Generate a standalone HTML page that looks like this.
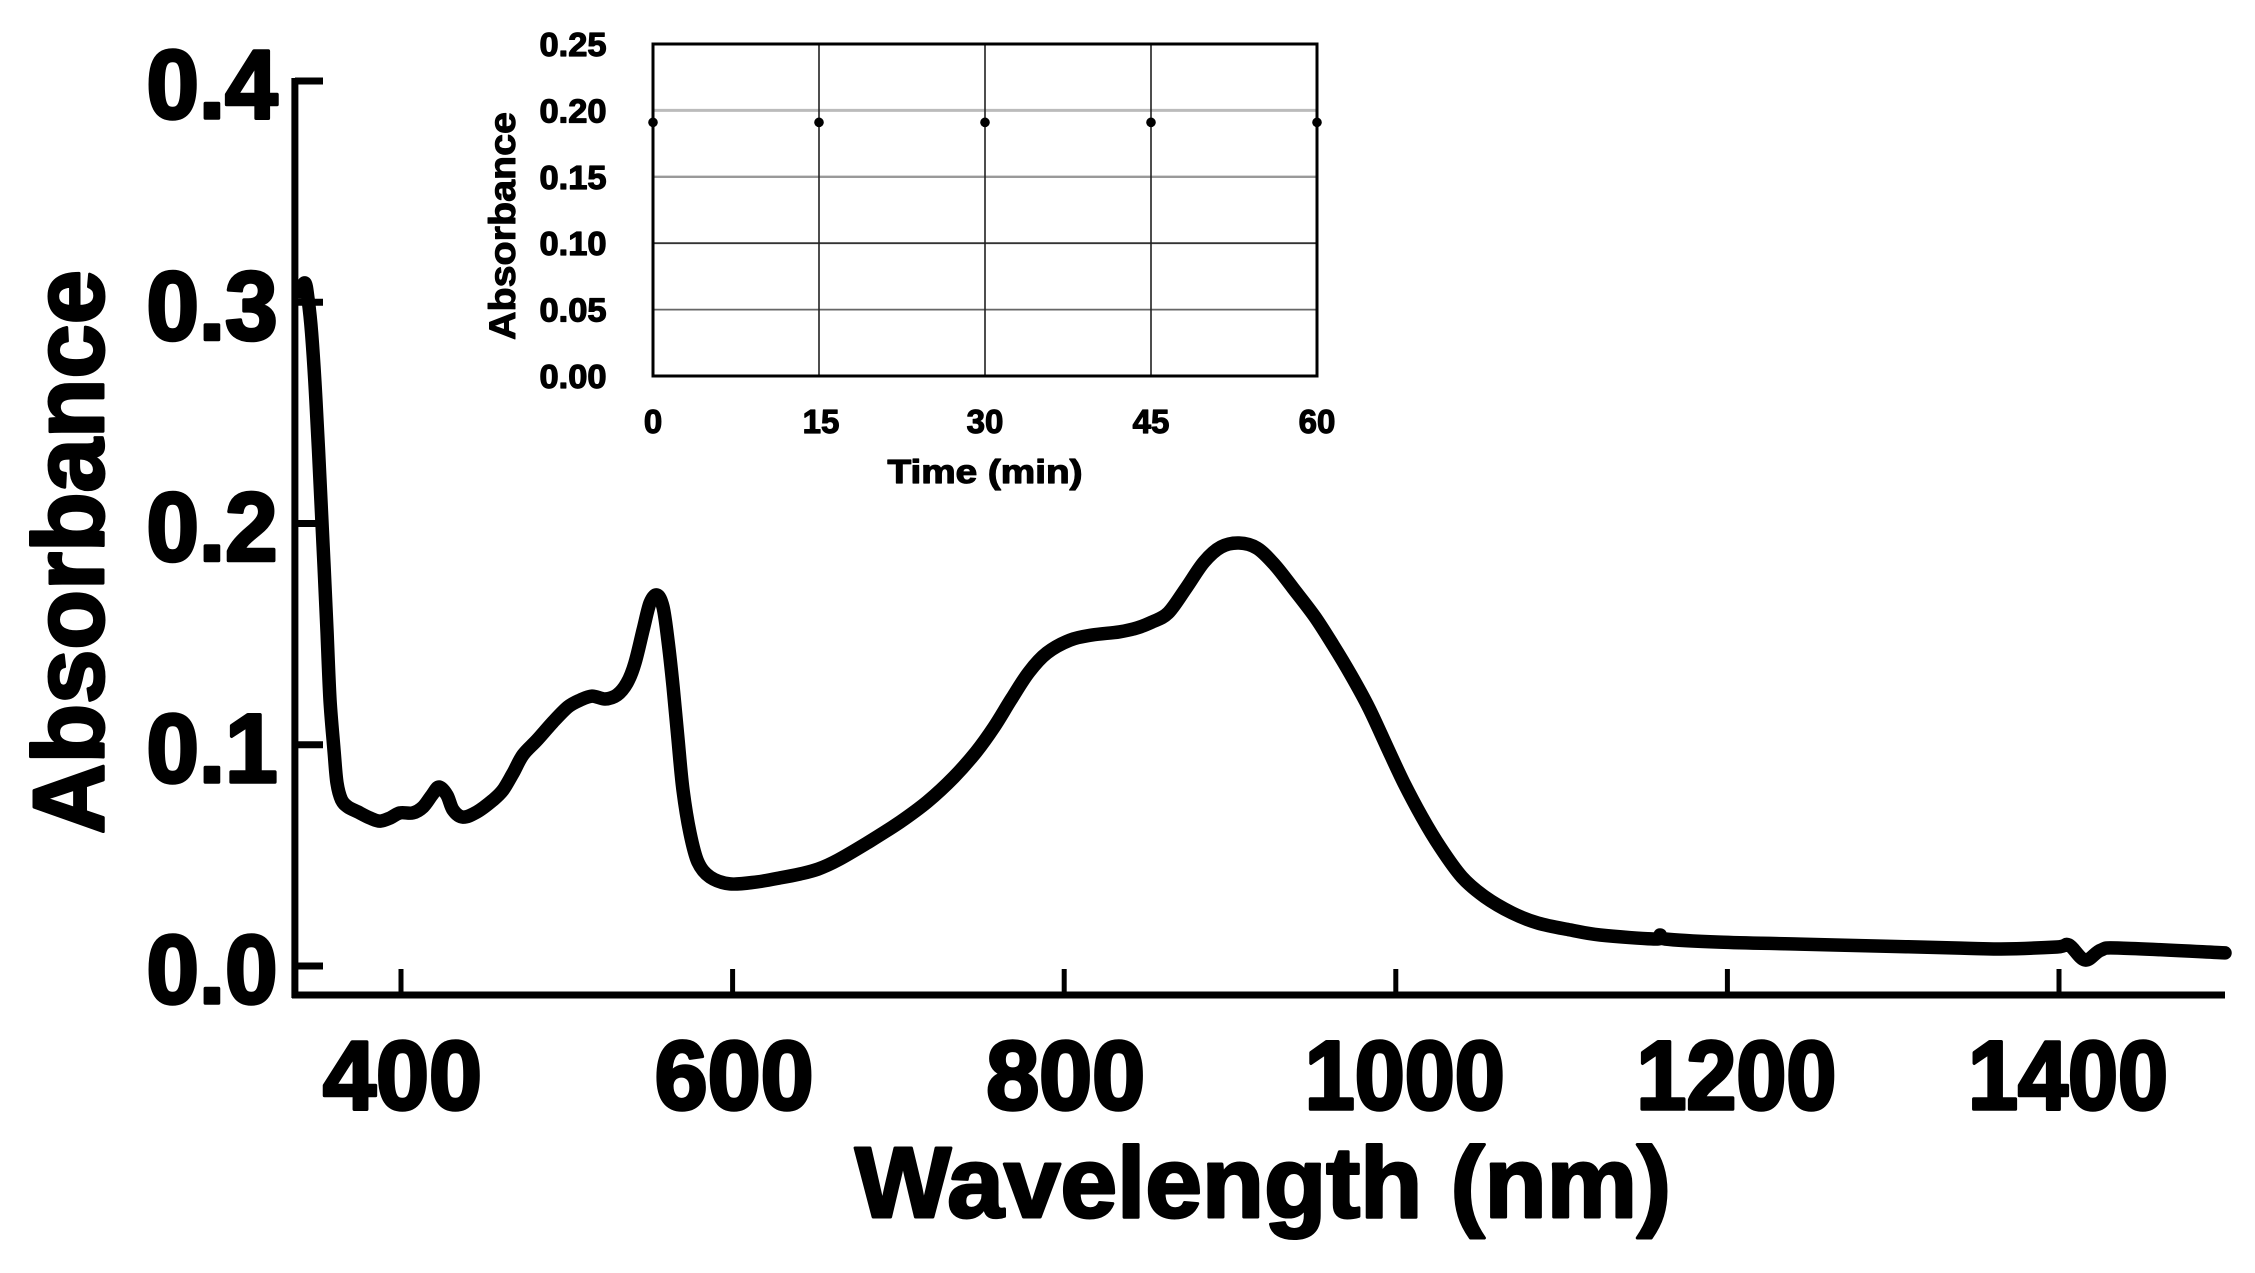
<!DOCTYPE html>
<html lang="en">
<head>
<meta charset="utf-8">
<title>Absorbance spectrum</title>
<style>
html,body{margin:0;padding:0;background:#fff;width:2255px;height:1273px;overflow:hidden}
svg{display:block}
text{font-family:"Liberation Sans",sans-serif;font-weight:700;fill:#000;stroke:#000;stroke-linejoin:round}
.big{font-size:97px;stroke-width:3.5px}
.title{font-size:100px;stroke-width:3px}
.small{font-size:33px;stroke-width:1.2px}
.small-title{font-size:37px;stroke-width:1px}
.axis{stroke:#000;stroke-width:7px;fill:none}
.tick-y{stroke:#000;stroke-width:7px}
.tick-x{stroke:#000;stroke-width:5px}
.frame{stroke:#000;stroke-width:3px;fill:none}
.grid-v{stroke:#222;stroke-width:1.6px}
.grid-h0{stroke:#bbb;stroke-width:3px}
.grid-h1{stroke:#999;stroke-width:2.4px}
.grid-h2{stroke:#333;stroke-width:1.8px}
.grid-h3{stroke:#666;stroke-width:1.8px}
.spectrum{stroke:#000;stroke-width:13.5px;fill:none;stroke-linejoin:round;stroke-linecap:round}
</style>
</head>
<body>
<svg id="chart" xmlns="http://www.w3.org/2000/svg" width="2255" height="1273" viewBox="0 0 2255 1273">
  <rect x="0" y="0" width="2255" height="1273" fill="#fff"/>
  <g id="main-plot"></g>
  <text class="title" transform="translate(103,552) rotate(-90)" text-anchor="middle" textLength="564" lengthAdjust="spacingAndGlyphs">Absorbance</text>
  <text class="title" x="1263" y="1217" text-anchor="middle" textLength="816" lengthAdjust="spacingAndGlyphs">Wavelength (nm)</text>
  <g id="inset-plot"></g>
  <text class="small-title" transform="translate(515,226) rotate(-90)" text-anchor="middle" textLength="228" lengthAdjust="spacingAndGlyphs">Absorbance</text>
  <text class="small" x="985" y="483" text-anchor="middle" textLength="195" lengthAdjust="spacingAndGlyphs">Time (min)</text>
</svg>
<script>
const wavelengths = [339.1,342.1,344,346.1,348.7,351.7,353.6,355.4,357.2,359.6,361.4,364.2,368,374.1,381.3,387.3,393.4,399.4,407.2,413.3,418.7,422.9,427.7,431.4,437.4,445.8,455.5,461.5,467.6,473.6,482,491.7,500.7,508,515.2,523,530.3,536.3,541.1,546,550.2,554.4,558,561,564.1,567.1,570.1,574.3,579.1,586.4,598.4,614.7,628.6,640.6,651.5,663.6,681.1,701,717.2,733.5,746.8,757.7,768.5,778.8,789.6,803.5,816.8,833.1,843.9,853,862.6,873.5,884.3,894.6,905.4,916.3,927.1,938,951.3,962.1,973,983.8,994.7,1004.9,1015.8,1026.7,1039.9,1053.8,1070.1,1085.8,1105.1,1123.2,1156.9,1159.4,1162.4,1195.5,1243.8,1292.6,1340.9,1365,1398.8,1406,1415.7,1425.3,1437.4,1500.1];
const absorbance = [.3046,.3087,.3010,.2861,.2558,.2106,.1803,.1505,.1202,.0976,.0827,.0750,.0719,.0696,.0669,.0655,.0669,.0692,.0692,.0719,.0773,.0809,.0773,.0705,.0673,.0696,.0750,.0795,.0872,.0954,.1021,.1103,.1171,.1202,.1220,.1207,.1225,.1279,.1369,.1519,.1641,.1677,.1623,.1473,.1261,.1021,.0795,.0601,.0470,.0402,.0371,.0380,.0398,.0416,.0438,.0479,.0556,.0651,.0741,.0854,.0967,.1080,.1211,.1329,.1415,.1473,.1496,.1510,.1528,.1555,.1595,.1708,.1826,.1894,.1912,.1889,.1812,.1708,.1577,.1451,.1315,.1166,.0990,.0827,.0673,.0538,.0402,.0312,.0240,.0194,.0163,.0140,.0122,.0140,.0122,.0108,.0099,.0090,.0081,.0077,.0086,.0095,.0027,.0072,.0081,.0059];
const xTicks = [400,600,800,1000,1200,1400];
const yTicks = [0.0,0.1,0.2,0.3,0.4];
const yTickLabels = ["0.0","0.1","0.2","0.3","0.4"];
const insetTimes = [0,15,30,45,60];
const insetAbsorbance = [0.191,0.191,0.191,0.191,0.191];
const insetYTicks = [0,0.05,0.10,0.15,0.20,0.25];
const insetYLabels = ["0.00","0.05","0.10","0.15","0.20","0.25"];

const NS = 'http://www.w3.org/2000/svg';
const xS = w => 401 + (w - 400) * 1.658;
const yS = a => 966 - a * 2212.5;
const ixS = t => 653 + t * (1317 - 653) / 60;
const iyS = a => 376 - a * (376 - 44) / 0.25;

function make(parent, tag, attrs, txt) {
  const el = document.createElementNS(NS, tag);
  for (const k in attrs) el.setAttribute(k, attrs[k]);
  if (txt !== undefined) el.textContent = txt;
  parent.appendChild(el);
  return el;
}

const main = document.getElementById('main-plot');
const inset = document.getElementById('inset-plot');

const yAxis = make(main, 'line', {class:'axis', x1:xS(336), x2:xS(336), y1:78, y2:998});


const xAxis = make(main, 'line', {class:'axis', x1:292, x2:2225, y1:995, y2:995});



yTicks.forEach((v, i) => {
  const t = make(main, 'line', {class:'tick-y', x1:295, x2:323, y1:yS(v), y2:yS(v)});
  
  
  const l = make(main, 'text', {class:'big', x:212, y:yS(v) + 37, 'text-anchor':'middle', textLength:131, lengthAdjust:'spacingAndGlyphs'}, yTickLabels[i]);
  
  
});

xTicks.forEach(v => {
  const t = make(main, 'line', {class:'tick-x', x1:xS(v), x2:xS(v), y1:969, y2:995});
  
  
  const label = String(v);
  const four = label.length === 4;
  const l = make(main, 'text', {class:'big', x:xS(v) + (four ? 9 : 1.5), y:1109, 'text-anchor':'middle', textLength:four ? 200 : 159, lengthAdjust:'spacingAndGlyphs'}, label);
  
  
});

function smoothPath(xs, ys) {
  let d = 'M' + xs[0].toFixed(1) + ' ' + ys[0].toFixed(1);
  for (let i = 0; i < xs.length - 1; i++) {
    const p0 = Math.max(i - 1, 0), p3 = Math.min(i + 2, xs.length - 1);
    const c1x = xs[i] + (xs[i + 1] - xs[p0]) / 6, c1y = ys[i] + (ys[i + 1] - ys[p0]) / 6;
    const c2x = xs[i + 1] - (xs[p3] - xs[i]) / 6, c2y = ys[i + 1] - (ys[p3] - ys[i]) / 6;
    d += 'C' + c1x.toFixed(1) + ' ' + c1y.toFixed(1) + ' ' + c2x.toFixed(1) + ' ' + c2y.toFixed(1) + ' ' + xs[i + 1].toFixed(1) + ' ' + ys[i + 1].toFixed(1);
  }
  return d;
}
const curve = make(main, 'path', {class:'spectrum', d:smoothPath(wavelengths.map(xS), absorbance.map(yS))});



insetYTicks.forEach((v, i) => {
  if (i > 0 && i < insetYTicks.length - 1) {
    const g = make(inset, 'line', {class:'grid-h' + (4 - i), x1:ixS(0), x2:ixS(60), y1:iyS(v), y2:iyS(v)});
    
    
  }
  const l = make(inset, 'text', {class:'small', x:573, y:iyS(v) + 12, 'text-anchor':'middle', textLength:67, lengthAdjust:'spacingAndGlyphs'}, insetYLabels[i]);
  
  
});

insetTimes.forEach((t, i) => {
  if (i > 0 && i < insetTimes.length - 1) {
    const g = make(inset, 'line', {class:'grid-v', x1:ixS(t), x2:ixS(t), y1:iyS(0), y2:iyS(0.25)});
    
    
  }
  const l = make(inset, 'text', {class:'small', x:ixS(t) + (i === 1 ? 2 : 0), y:433, 'text-anchor':'middle'}, String(t));
  
  
});

const frame = make(inset, 'rect', {class:'frame', x:ixS(0), y:iyS(0.25), width:ixS(60) - ixS(0), height:iyS(0) - iyS(0.25)});



insetTimes.forEach((t, i) => {
  const c = make(inset, 'circle', {cx:ixS(t), cy:iyS(insetAbsorbance[i]), r:4.8, fill:'#000'});
  
  
});
</script>
</body>
</html>
